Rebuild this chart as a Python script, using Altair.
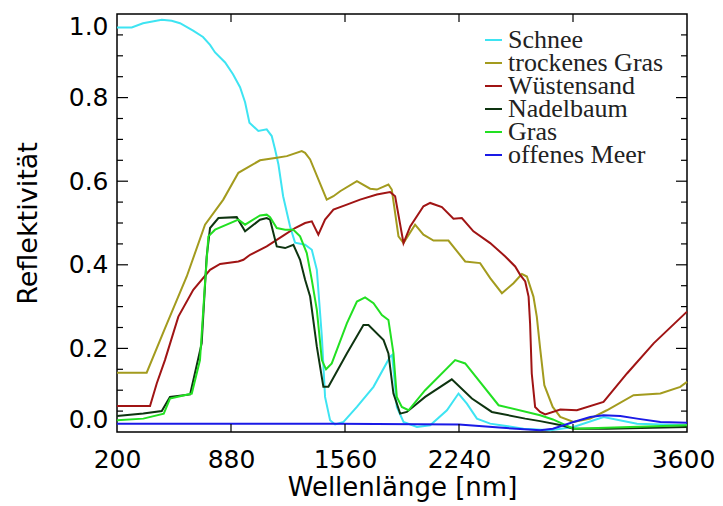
import altair as alt
import pandas as pd

# ---------------- data ----------------
series_names = ["Schnee", "trockenes Gras", "Wüstensand", "Nadelbaum", "Gras", "offenes Meer"]
series_colors = ["#3ee4f2", "#a39b1e", "#a01414", "#0e3410", "#22e022", "#1a1ae6"]

schnee_nm = [200, 288, 355, 467, 526, 576, 654, 713, 755, 785, 845, 892, 934, 964, 990, 1043, 1093,
             1123, 1143, 1163, 1191, 1232, 1262, 1322, 1362, 1392, 1422, 1441, 1471, 1501, 1551, 1631,
             1730, 1829, 1841, 1859, 1869, 1909, 1989, 2068, 2168, 2237, 2287, 2347, 2426, 2625, 2784,
             2923, 3102, 3302, 3600]
schnee_val = [0.968, 0.968, 0.978, 0.986, 0.984, 0.978, 0.960, 0.945, 0.926, 0.908, 0.884, 0.856, 0.825,
              0.789, 0.740, 0.720, 0.724, 0.708, 0.676, 0.640, 0.564, 0.492, 0.453, 0.448, 0.436, 0.388,
              0.228, 0.084, 0.028, 0.018, 0.024, 0.060, 0.108, 0.180, 0.184, 0.108, 0.060, 0.024, 0.012,
              0.016, 0.052, 0.092, 0.068, 0.032, 0.020, 0.008, 0.004, 0.012, 0.036, 0.020, 0.016]

gras_tr_nm = [200, 377, 486, 616, 725, 834, 924, 1053, 1153, 1213, 1302, 1322, 1352, 1451, 1491, 1531,
              1631, 1710, 1750, 1819, 1839, 1879, 1909, 1978, 2028, 2088, 2177, 2277, 2366, 2426, 2496,
              2565, 2615, 2645, 2684, 2704, 2724, 2749, 2799, 2844, 2923, 3023, 3122, 3281, 3441, 3560,
              3600]
gras_tr_val = [0.142, 0.142, 0.248, 0.372, 0.496, 0.556, 0.620, 0.650, 0.656, 0.660, 0.672, 0.668, 0.652,
               0.556, 0.564, 0.576, 0.600, 0.582, 0.580, 0.592, 0.580, 0.468, 0.452, 0.496, 0.472, 0.458,
               0.458, 0.408, 0.404, 0.368, 0.332, 0.356, 0.378, 0.372, 0.324, 0.276, 0.200, 0.112, 0.060,
               0.036, 0.024, 0.032, 0.052, 0.088, 0.092, 0.108, 0.120]

sand_nm = [200, 397, 437, 486, 566, 655, 755, 815, 924, 954, 994, 1093, 1192, 1262, 1322, 1362, 1401,
           1441, 1491, 1571, 1650, 1750, 1829, 1859, 1909, 1949, 2028, 2068, 2138, 2207, 2257, 2326, 2426,
           2516, 2575, 2605, 2635, 2655, 2664, 2674, 2694, 2724, 2754, 2844, 2943, 3102, 3242, 3401, 3600]
sand_val = [0.062, 0.062, 0.116, 0.172, 0.276, 0.340, 0.388, 0.402, 0.408, 0.412, 0.424, 0.444, 0.470,
            0.488, 0.500, 0.504, 0.472, 0.508, 0.532, 0.544, 0.556, 0.568, 0.574, 0.564, 0.452, 0.492,
            0.540, 0.548, 0.538, 0.510, 0.512, 0.480, 0.452, 0.420, 0.396, 0.376, 0.360, 0.324, 0.260,
            0.140, 0.060, 0.048, 0.042, 0.054, 0.052, 0.072, 0.140, 0.212, 0.288]

nadel_nm = [200, 357, 467, 516, 636, 705, 735, 755, 805, 914, 964, 1053, 1093, 1113, 1153, 1203, 1252,
            1292, 1322, 1352, 1392, 1431, 1461, 1571, 1670, 1700, 1790, 1819, 1849, 1889, 1929, 2038, 2197,
            2317, 2436, 2635, 2724, 2850, 2923, 3122, 3600]
nadel_val = [0.038, 0.044, 0.050, 0.084, 0.090, 0.212, 0.420, 0.488, 0.512, 0.514, 0.480, 0.508, 0.512,
             0.508, 0.444, 0.440, 0.448, 0.412, 0.364, 0.324, 0.204, 0.108, 0.108, 0.188, 0.256, 0.256,
             0.220, 0.188, 0.092, 0.044, 0.048, 0.084, 0.126, 0.080, 0.048, 0.032, 0.026, 0.016, 0.008,
             0.008, 0.012]

gras_nm = [200, 357, 479, 516, 646, 695, 725, 745, 785, 924, 964, 1053, 1093, 1113, 1153, 1203, 1252,
           1292, 1332, 1362, 1392, 1422, 1447, 1481, 1571, 1631, 1680, 1730, 1780, 1819, 1849, 1869, 1899,
           1939, 2038, 2217, 2277, 2476, 2724, 2800, 2923, 3600]
gras_val = [0.028, 0.032, 0.044, 0.080, 0.092, 0.172, 0.356, 0.468, 0.484, 0.508, 0.496, 0.518, 0.520,
            0.514, 0.488, 0.484, 0.484, 0.468, 0.428, 0.364, 0.292, 0.172, 0.150, 0.164, 0.260, 0.312,
            0.322, 0.308, 0.280, 0.268, 0.188, 0.084, 0.060, 0.052, 0.100, 0.172, 0.164, 0.064, 0.040,
            0.030, 0.008, 0.016]

meer_nm = [200, 1500, 2240, 2500, 2724, 2800, 2923, 3023, 3102, 3202, 3302, 3441, 3600]
meer_val = [0.020, 0.020, 0.018, 0.010, 0.004, 0.008, 0.024, 0.036, 0.040, 0.038, 0.032, 0.024, 0.022]

x_label_values = [200, 880, 1560, 2240, 2920, 3600]
y_label_values = [0.0, 0.2, 0.4, 0.6, 0.8, 1.0]
x_major_ticks = [880, 1560, 2240, 2920]
y_major_ticks = [0.2, 0.4, 0.6, 0.8]
y_minor_ticks = [0.05, 0.10, 0.15, 0.25, 0.30, 0.35, 0.45, 0.50, 0.55,
                 0.65, 0.70, 0.75, 0.85, 0.90, 0.95]

# ---------------- build table ----------------
all_nm = [schnee_nm, gras_tr_nm, sand_nm, nadel_nm, gras_nm, meer_nm]
all_val = [schnee_val, gras_tr_val, sand_val, nadel_val, gras_val, meer_val]
rows = []
for name, nms, vals in zip(series_names, all_nm, all_val):
    for i, (a, b) in enumerate(zip(nms, vals)):
        rows.append({"Material": name, "nm": a, "refl": b, "order": i})
df = pd.DataFrame(rows)

W, H = 570, 418
xscale = alt.Scale(domain=[200, 3600], nice=False, zero=False)
yscale = alt.Scale(domain=[0, 1.0], nice=False, zero=False)
cscale = alt.Scale(domain=series_names, range=series_colors)
AX_FONT = "DejaVu Sans"

lines = alt.Chart(df).mark_line(strokeWidth=2).encode(
    x=alt.X("nm:Q", scale=xscale,
            axis=alt.Axis(values=x_label_values, format="d", ticks=False, domain=False,
                          grid=False, labelFont=AX_FONT, labelFontSize=25, labelColor="black",
                          labelPadding=15, labelFlush=False, labelOverlap=False,
                          labelOffset={"condition": {"test": "datum.value == 3600", "value": -4},
                                       "value": 0},
                          title="Wellenlänge [nm]", titleFont=AX_FONT, titleFontSize=26,
                          titleFontWeight="normal", titleColor="black", titlePadding=2)),
    y=alt.Y("refl:Q", scale=yscale,
            axis=alt.Axis(values=y_label_values, format=".1f", ticks=False, domain=False,
                          grid=False, labelFont=AX_FONT, labelFontSize=25, labelColor="black",
                          labelPadding=9, labelFlush=True, labelOverlap=False,
                          title="Reflektivität", titleFont=AX_FONT, titleFontSize=27,
                          titleFontWeight="normal", titleColor="black", titlePadding=26)),
    color=alt.Color("Material:N", scale=cscale, sort=series_names, legend=None),
    order="order:Q",
)

# legend built from the series names (layout in pixels)
leg = pd.DataFrame({"Material": series_names, "idx": list(range(len(series_names)))})
leg_base = alt.Chart(leg).transform_calculate(ypx="26 + datum.idx * 23")
leg_lines = leg_base.mark_rule(strokeWidth=2).encode(
    x=alt.value(368), x2=alt.value(385),
    y=alt.Y("ypx:Q", scale=None, axis=None),
    color=alt.Color("Material:N", scale=cscale, legend=None),
)
leg_text = leg_base.mark_text(align="left", baseline="middle", font="Liberation Serif",
                              fontSize=26, color="#222222").encode(
    x=alt.value(391),
    y=alt.Y("ypx:Q", scale=None, axis=None),
    text="Material:N",
)

ymaj = pd.DataFrame({"v": y_major_ticks})
ymin = pd.DataFrame({"v": y_minor_ticks})
xmaj = pd.DataFrame({"v": x_major_ticks})

def yrule(data, x0, x1):
    return alt.Chart(data).mark_rule(color="black", strokeWidth=1.2).encode(
        y=alt.Y("v:Q", scale=yscale, axis=None), x=alt.value(x0), x2=alt.value(x1))

def xrule(data, y0, y1):
    return alt.Chart(data).mark_rule(color="black", strokeWidth=1.2).encode(
        x=alt.X("v:Q", scale=xscale, axis=None), y=alt.value(y0), y2=alt.value(y1))

ticks = [
    yrule(ymaj, 0, 11), yrule(ymin, 0, 6),
    yrule(ymaj, W - 11, W), yrule(ymin, W - 6, W),
    xrule(xmaj, H - 8, H), xrule(xmaj, 0, 8),
]

chart = alt.layer(lines, *ticks, leg_lines, leg_text).resolve_axis(
    x="independent", y="independent"
).properties(
    width=W, height=H,
    autosize=alt.AutoSizeParams(type="none"),
    padding={"left": 109, "top": 6, "right": 28, "bottom": 74},
    background="white",
).configure_view(stroke="black", strokeWidth=1.5)

chart.save("out.html", embed_options={"renderer": "svg", "actions": False})
